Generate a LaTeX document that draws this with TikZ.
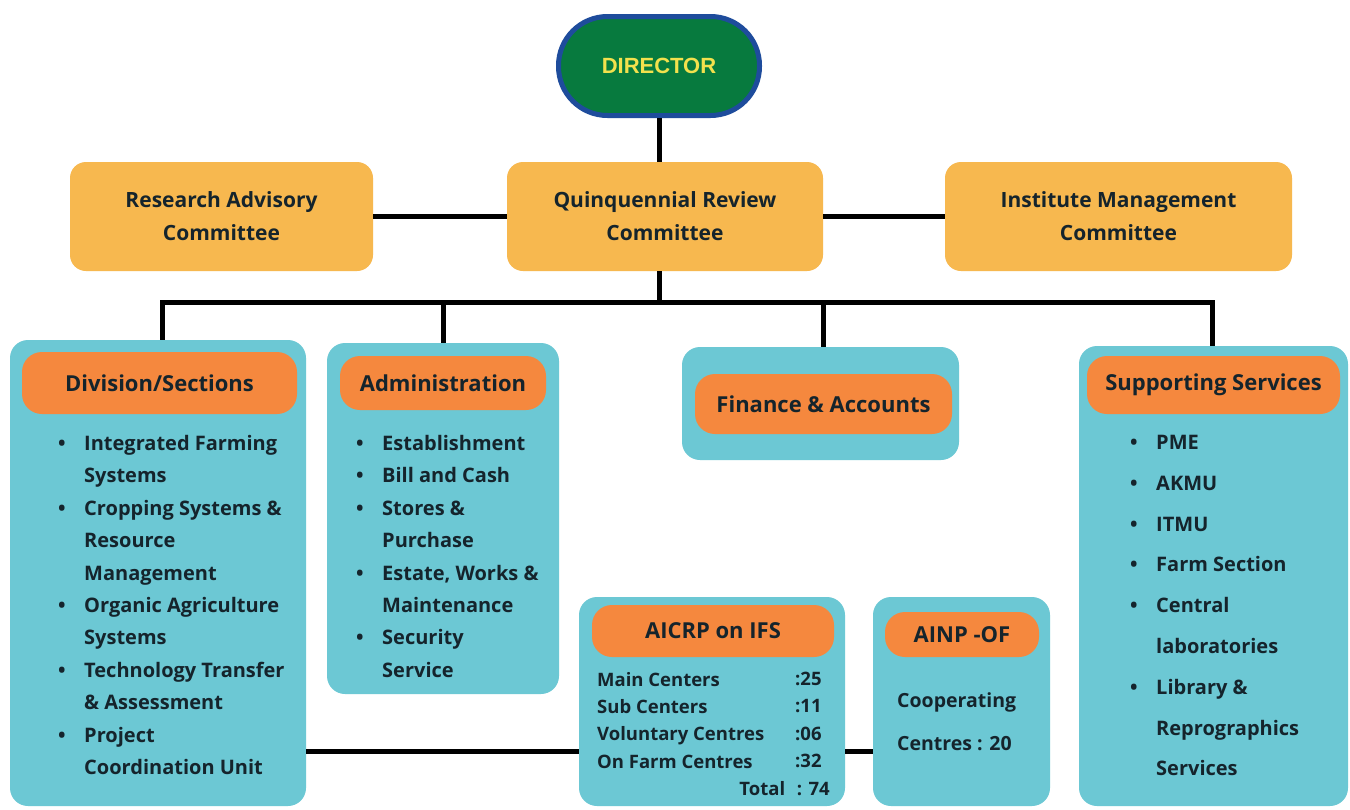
\documentclass[tikz,border=0pt]{standalone}
\usepackage{fontspec}
\setmainfont{Open Sans}
\newfontfamily\dirfont{Liberation Sans}
\definecolor{cteal}{HTML}{6CC8D4}
\definecolor{corange}{HTML}{F5883E}
\definecolor{cyellow}{HTML}{F7B84F}
\definecolor{cgreen}{HTML}{077A3E}
\definecolor{cblue}{HTML}{1E4C9C}
\definecolor{ctxt}{HTML}{F2E14D}
\definecolor{cdark}{HTML}{15242C}
\newcommand{\bul}{\makebox[26pt][l]{\textbullet}}
\newcommand{\ind}{\hspace*{26pt}}
\begin{document}
\begin{tikzpicture}[x=1pt,y=-1pt,
  conn/.style={line width=5pt,black},
  committee/.style={fill=cyellow,rounded corners=16pt,align=center,text=cdark,
    font=\fontsize{21}{33}\selectfont\bfseries,inner sep=0pt},
  outerbox/.style={fill=cteal,rounded corners=18pt,inner sep=0pt},
  header/.style={fill=corange,rounded corners=20pt,text=cdark,inner sep=0pt,
    font=\fontsize{22}{24}\selectfont\bfseries},
  listtxt/.style={anchor=north west,inner sep=0pt,align=left,text=cdark,
    font=\fontsize{20}{32.4}\selectfont\bfseries},
  smalltxt/.style={inner sep=0pt,align=left,text=cdark,
    font=\fontsize{18.5}{27.3}\selectfont\bfseries}
]
\useasboundingbox[fill=white] (0,0) rectangle (1350,809);

% top
\node[fill=cgreen,draw=cblue,line width=5pt,minimum width=201pt,minimum height=99pt,
  rounded corners=49pt,text=ctxt,font=\dirfont\fontsize{22}{24}\selectfont\bfseries] (dir) at (659,66) {DIRECTOR};
\node[committee,minimum width=303pt,minimum height=109pt] (rac) at (221.5,216.5) {Research Advisory\\Committee};
\node[committee,minimum width=316pt,minimum height=109pt] (qrc) at (665,216.5) {Quinquennial Review\\Committee};
\node[committee,minimum width=347pt,minimum height=109pt] (imc) at (1118.5,216.5) {Institute Management\\Committee};

% lower boxes
\node[outerbox,minimum width=296pt,minimum height=466pt] (div) at (158,573) {};
\node[header,minimum width=275pt,minimum height=62pt] (divh) at (159.5,383) {Division/Sections};
\node[outerbox,minimum width=232pt,minimum height=351pt] (adm) at (443,518.5) {};
\node[header,minimum width=206pt,minimum height=54pt] (admh) at (443,383) {Administration};
\node[outerbox,minimum width=277pt,minimum height=113pt] (fin) at (820.5,403.5) {};
\node[header,minimum width=257pt,minimum height=60pt] (finh) at (823.5,404) {Finance \& Accounts};
\node[outerbox,minimum width=269pt,minimum height=460pt] (sup) at (1213.5,576) {};
\node[header,minimum width=253pt,minimum height=58pt] (suph) at (1213.5,385) {Supporting Services};
\node[outerbox,minimum width=266pt,minimum height=209pt] (aic) at (712,701.5) {};
\node[header,minimum width=242pt,minimum height=52pt] (aich) at (713,631) {AICRP on IFS};
\node[outerbox,minimum width=177pt,minimum height=209pt] (ain) at (961.5,701.5) {};
\node[header,minimum width=154pt,minimum height=45pt] (ainh) at (962,634.5) {AINP -OF};

% lists
\node[listtxt] (divl) at (58,435) {\bul Integrated Farming\\ \ind Systems\\ \bul Cropping Systems \&\\ \ind Resource\\ \ind Management\\ \bul Organic Agriculture\\ \ind Systems\\ \bul Technology Transfer\\ \ind \& Assessment\\ \bul Project\\ \ind Coordination Unit};
\node[listtxt] (adml) at (356,435) {\bul Establishment\\ \bul Bill and Cash\\ \bul Stores \&\\ \ind Purchase\\ \bul Estate, Works \&\\ \ind Maintenance\\ \bul Security\\ \ind Service};
\node[listtxt,font=\fontsize{20}{40.8}\selectfont\bfseries] (supl) at (1130,435) {\bul PME\\ \bul AKMU\\ \bul ITMU\\ \bul Farm Section\\ \bul Central\\ \ind laboratories\\ \bul Library \&\\ \ind Reprographics\\ \ind Services};
\node[smalltxt,anchor=north west] (aicl) at (597,672) {Main Centers\\Sub Centers\\Voluntary Centres\\On Farm Centres};
\node[smalltxt,anchor=north west] (aicv) at (795,672) {:25\\:11\\:06\\:32};
\node[smalltxt,anchor=east] (aict) at (830,789) {Total\hspace{7pt} : 74};
\node[smalltxt,anchor=north west,font=\fontsize{19.5}{43}\selectfont\bfseries] (ainl) at (897,692) {Cooperating\\Centres : 20};

% connectors
\coordinate (busL) at (162,302);
\coordinate (busA) at (443,302);
\coordinate (busF) at (823,302);
\coordinate (busR) at (1212,302);
\coordinate (lk) at (0,751);
\draw[conn] (dir.south) -- (dir.south |- qrc.north);
\draw[conn] (rac.east) -- (qrc.west);
\draw[conn] (qrc.east) -- (imc.west);
\draw[conn] (dir.south |- qrc.south) -- (dir.south |- busL);
\draw[conn,line cap=rect] (busL) -- (busR);
\draw[conn] (busL) -- (busL |- div.north);
\draw[conn] (busA) -- (busA |- adm.north);
\draw[conn] (busF) -- (busF |- fin.north);
\draw[conn] (busR) -- (busR |- sup.north);
\draw[conn] (div.east |- lk) -- (aic.west |- lk);
\draw[conn] (aic.east |- lk) -- (ain.west |- lk);
\end{tikzpicture}
\end{document}
